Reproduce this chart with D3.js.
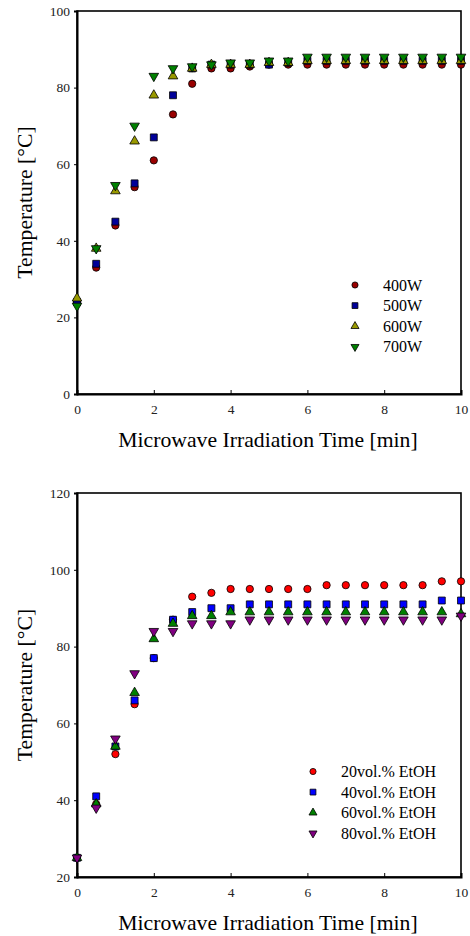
<!DOCTYPE html>
<html>
<head>
<meta charset="utf-8">
<script src="https://cdn.jsdelivr.net/npm/d3@7"></script>
<style>
  body { margin: 0; background: #fff; }
  text { font-family: "Liberation Serif", "Times New Roman", serif; }
</style>
</head>
<body>
<div id="chart"></div>
<script>
/* Data */
const times = [0, 0.5, 1, 1.5, 2, 2.5, 3, 3.5, 4, 4.5, 5, 5.5, 6, 6.5, 7, 7.5, 8, 8.5, 9, 9.5, 10];

// Top panel: microwave power
const powerLabels = ['400W', '500W', '600W', '700W'];
const w400 = [24, 33, 44, 54, 61, 73, 81, 85, 85, 85.5, 86, 86, 86, 86, 86, 86, 86, 86, 86, 86, 86];
const w500 = [24, 34, 45, 55, 67, 78, 85, 86, 86, 86, 86, 86.5, 87, 87, 87, 87, 87, 87, 87, 87, 87];
const w600 = [25, 38, 53, 66, 78, 83, 85, 86, 86, 86, 86.5, 86.5, 87, 87, 87, 87, 87, 87, 87, 87, 87];
const w700 = [23, 38, 54.5, 70, 83, 85, 85.5, 86, 86.5, 86.5, 87, 87, 88, 88, 88, 88, 88, 88, 88, 88, 88];

// Bottom panel: ethanol content
const etohLabels = ['20vol.% EtOH', '40vol.% EtOH', '60vol.% EtOH', '80vol.% EtOH'];
const e20 = [25, 39, 52, 65, 77, 87, 93, 94, 95, 95, 95, 95, 95, 96, 96, 96, 96, 96, 96, 97, 97];
const e40 = [25, 41, 54, 66, 77, 87, 89, 90, 90, 91, 91, 91, 91, 91, 91, 91, 91, 91, 91, 92, 92];
const e60 = [25, 39, 54, 68, 82, 86, 88, 88, 89, 89, 89, 89, 89, 89, 89, 89, 89, 89, 89, 89, 88.5];
const e80 = [25, 38, 56, 73, 84, 84, 86, 86, 86, 87, 87, 87, 87, 87, 87, 87, 87, 87, 87, 87, 88];

const xTicks = [0, 2, 4, 6, 8, 10];
const topYTicks = [0, 20, 40, 60, 80, 100];
const botYTicks = [20, 40, 60, 80, 100, 120];

const W = 470, H = 936;
const svg = d3.select('#chart').append('svg').attr('width', W).attr('height', H);

// Marker shapes
const shapes = ['circle', 'square', 'up', 'down'];
const symbolPath = (shape, s) => {
  const type = { circle: d3.symbolCircle, square: d3.symbolSquare, up: d3.symbolTriangle, down: d3.symbolTriangle }[shape];
  return d3.symbol().type(type).size(s)();
};

/* Draw one panel */
const drawPanel = ({ top, bottom, yDomain, yTicks, series, labels, colors, legendX, legendY }) => {
  const left = 77, right = 461;
  const x = d3.scaleLinear().domain([0, 10]).range([left, right]);
  const y = d3.scaleLinear().domain(yDomain).range([bottom, top]);
  const g = svg.append('g');

  // Frame
  g.append('rect')
    .attr('x', left).attr('y', top)
    .attr('width', right - left).attr('height', bottom - top)
    .attr('fill', 'none').attr('stroke', '#000').attr('stroke-width', 1.6);

  // X axis (ticks inward)
  const xAxis = g.append('g').attr('transform', `translate(0,${bottom})`)
    .call(d3.axisBottom(x).tickValues(xTicks).tickSize(-4).tickPadding(10).tickFormat(d3.format('d')));
  xAxis.select('.domain').attr('stroke-width', 2);
  xAxis.selectAll('.tick line').attr('stroke-width', 1);
  xAxis.selectAll('text').attr('font-size', 13.5).attr('fill', '#222')
    .style('font-family', '"Liberation Serif", serif');

  // Y axis (ticks outward)
  const yAxis = g.append('g').attr('transform', `translate(${left},0)`)
    .call(d3.axisLeft(y).tickValues(yTicks).tickSize(3).tickPadding(4).tickFormat(d3.format('d')));
  yAxis.select('.domain').attr('stroke-width', 2);
  yAxis.selectAll('.tick line').attr('stroke-width', 1);
  yAxis.selectAll('text').attr('font-size', 13.5).attr('fill', '#222')
    .style('font-family', '"Liberation Serif", serif');

  // Axis titles
  g.append('text')
    .attr('x', (left + right) / 2 - 1).attr('y', bottom + 53)
    .attr('text-anchor', 'middle').attr('font-size', 21.7)
    .text('Microwave Irradiation Time [min]');
  g.append('text')
    .attr('transform', `translate(32,${(top + bottom) / 2}) rotate(-90)`)
    .attr('text-anchor', 'middle').attr('font-size', 21.7)
    .text('Temperature [°C]');

  // Points
  series.forEach((vals, i) => {
    g.append('g').selectAll('path')
      .data(vals.map((v, j) => [times[j], v]))
      .join('path')
      .attr('d', symbolPath(shapes[i], i === 0 ? 42 : i === 1 ? 48 : 40))
      .attr('transform', (d) => `translate(${x(d[0])},${y(d[1])})${shapes[i] === 'down' ? ' rotate(180)' : ''}`)
      .attr('fill', colors[i]).attr('stroke', '#000').attr('stroke-width', 0.8);
  });

  // Legend
  labels.forEach((lab, i) => {
    const ly = legendY + i * 20.6;
    g.append('path')
      .attr('d', symbolPath(shapes[i], i === 0 ? 30 : i === 1 ? 34 : 28))
      .attr('transform', `translate(${legendX},${ly})${shapes[i] === 'down' ? ' rotate(180)' : ''}`)
      .attr('fill', colors[i]).attr('stroke', '#000').attr('stroke-width', 0.8);
    g.append('text')
      .attr('x', legendX + 28).attr('y', ly + 5.5)
      .attr('font-size', 16)
      .text(lab);
  });
};

drawPanel({
  top: 11, bottom: 394,
  yDomain: [0, 100], yTicks: topYTicks,
  series: [w400, w500, w600, w700], labels: powerLabels,
  colors: ['#990000', '#000099', '#999900', '#008000'],
  legendX: 355, legendY: 285,
});

drawPanel({
  top: 493, bottom: 877,
  yDomain: [20, 120], yTicks: botYTicks,
  series: [e20, e40, e60, e80], labels: etohLabels,
  colors: ['#ff0000', '#0000ff', '#008000', '#800080'],
  legendX: 313, legendY: 771.5,
});
</script>
</body>
</html>
